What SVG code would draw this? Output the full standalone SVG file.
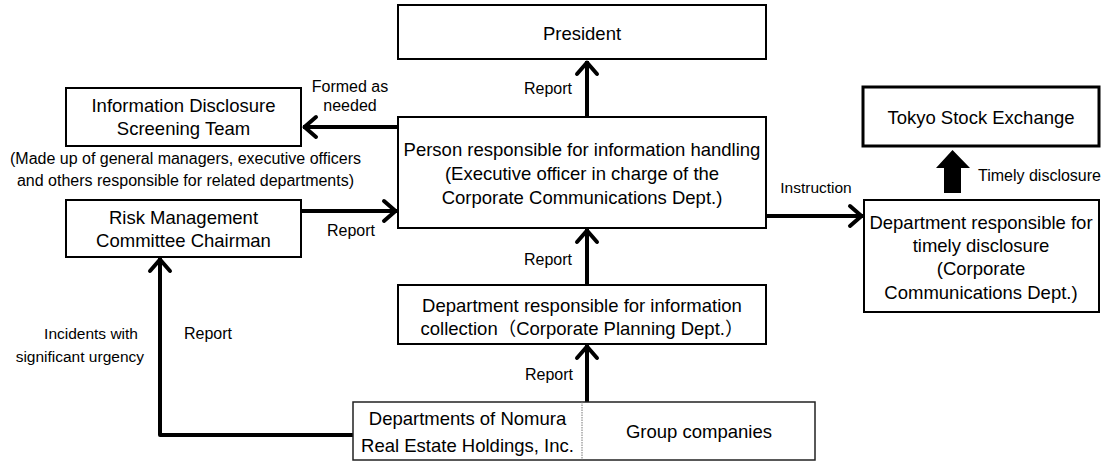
<svg xmlns="http://www.w3.org/2000/svg" width="1114" height="463" viewBox="0 0 1114 463">
<defs>
<style>
.box{fill:#fff;stroke:#000;stroke-width:2}
.thick{fill:#fff;stroke:#000;stroke-width:3}
.t{font-family:"Liberation Sans","Noto Sans CJK JP",Arial,sans-serif;font-size:18.5px;fill:#000;text-anchor:middle}
.l{font-family:"Liberation Sans","Noto Sans CJK JP",Arial,sans-serif;font-size:16px;fill:#000;text-anchor:middle}
.c{fill:none;stroke:#000;stroke-width:4;stroke-linejoin:round}
</style>
<marker id="ah" markerUnits="userSpaceOnUse" markerWidth="30" markerHeight="30" viewBox="-20 -15 30 30" refX="0" refY="0" orient="auto">
<path d="M-13,-10 L-1.5,0 L-13,10" fill="none" stroke="#000" stroke-width="4" stroke-linecap="round" stroke-linejoin="round"/>
</marker>
</defs>
<rect width="1114" height="463" fill="#fff"/>

<g id="connectors">
<line class="c" x1="587" y1="116" x2="587" y2="61" marker-end="url(#ah)"/>
<line class="c" x1="397" y1="127" x2="303" y2="127" marker-end="url(#ah)"/>
<line class="c" x1="302" y1="211" x2="397" y2="211" marker-end="url(#ah)"/>
<line class="c" x1="767" y1="216" x2="863" y2="216" marker-end="url(#ah)"/>
<line class="c" x1="587" y1="284" x2="587" y2="229" marker-end="url(#ah)"/>
<line class="c" x1="587" y1="402" x2="587" y2="345" marker-end="url(#ah)"/>
<polyline class="c" points="353,435 160,435 160,258" marker-end="url(#ah)"/>
<polygon points="944,193 961,193 961,168 970,168 952.5,150 936,168 944,168" fill="#000"/>
<text class="l" x="350" y="91.5">Formed as</text>
<text class="l" x="350" y="110.5">needed</text>
<text class="l" x="548" y="93.5">Report</text>
<text class="l" x="351" y="235.5">Report</text>
<text class="l" x="548" y="264.5">Report</text>
<text class="l" x="549" y="379.5">Report</text>
<text class="l" x="816" y="192.5" style="font-size:15.5px">Instruction</text>
<text class="l" x="978" y="180.5" style="text-anchor:start">Timely disclosure</text>
<text class="l" x="208" y="338.5">Report</text>
<text class="l" x="138" y="338.5" style="text-anchor:end;font-size:15.5px">Incidents with</text>
<text class="l" x="144" y="361.5" style="text-anchor:end;font-size:15.5px">significant urgency</text>
</g>

<g id="president">
<rect class="box" x="398" y="5" width="368" height="54"/>
<text class="t" x="582" y="39.5">President</text>
</g>

<g id="screening-team">
<rect class="box" x="66" y="88" width="235" height="58"/>
<text class="t" x="183.5" y="111.5">Information Disclosure</text>
<text class="t" x="183.5" y="134.5">Screening Team</text>
<text class="l" x="185.5" y="163.5">(Made up of general managers, executive officers</text>
<text class="l" x="185.5" y="185.5">and others responsible for related departments)</text>
</g>

<g id="risk-management">
<rect class="box" x="66" y="200" width="235" height="57"/>
<text class="t" x="183.5" y="223.5">Risk Management</text>
<text class="t" x="183.5" y="246.5">Committee Chairman</text>
</g>

<g id="person-responsible">
<rect class="box" x="398" y="117" width="368" height="111"/>
<text class="t" x="582" y="155.5">Person responsible for information handling</text>
<text class="t" x="582" y="179.5">(Executive officer in charge of the</text>
<text class="t" x="582" y="203.5">Corporate Communications Dept.)</text>
</g>

<g id="tokyo-stock-exchange">
<rect class="thick" x="863" y="87" width="236" height="59"/>
<text class="t" x="981" y="123.5">Tokyo Stock Exchange</text>
</g>

<g id="timely-disclosure-dept">
<rect class="box" x="864" y="200" width="235" height="112"/>
<text class="t" x="981" y="228.5">Department responsible for</text>
<text class="t" x="981" y="251.5">timely disclosure</text>
<text class="t" x="981" y="274.5">(Corporate</text>
<text class="t" x="981" y="298.5">Communications Dept.)</text>
</g>

<g id="info-collection-dept">
<rect class="box" x="398" y="285" width="368" height="59"/>
<text class="t" x="582" y="311.5">Department responsible for information</text>
<text class="t" x="582" y="334.5">collection（Corporate Planning Dept.）</text>
</g>

<g id="source-departments">
<rect x="353" y="402" width="462" height="58" fill="#fff" stroke="#222" stroke-width="1.5"/>
<line x1="582" y1="402" x2="582" y2="460" stroke="#777" stroke-width="1" stroke-dasharray="1.5 1"/>
<text class="t" x="467.5" y="424.5">Departments of Nomura</text>
<text class="t" x="467.5" y="451.5">Real Estate Holdings, Inc.</text>
<text class="t" x="699" y="438">Group companies</text>
</g>
</svg>
